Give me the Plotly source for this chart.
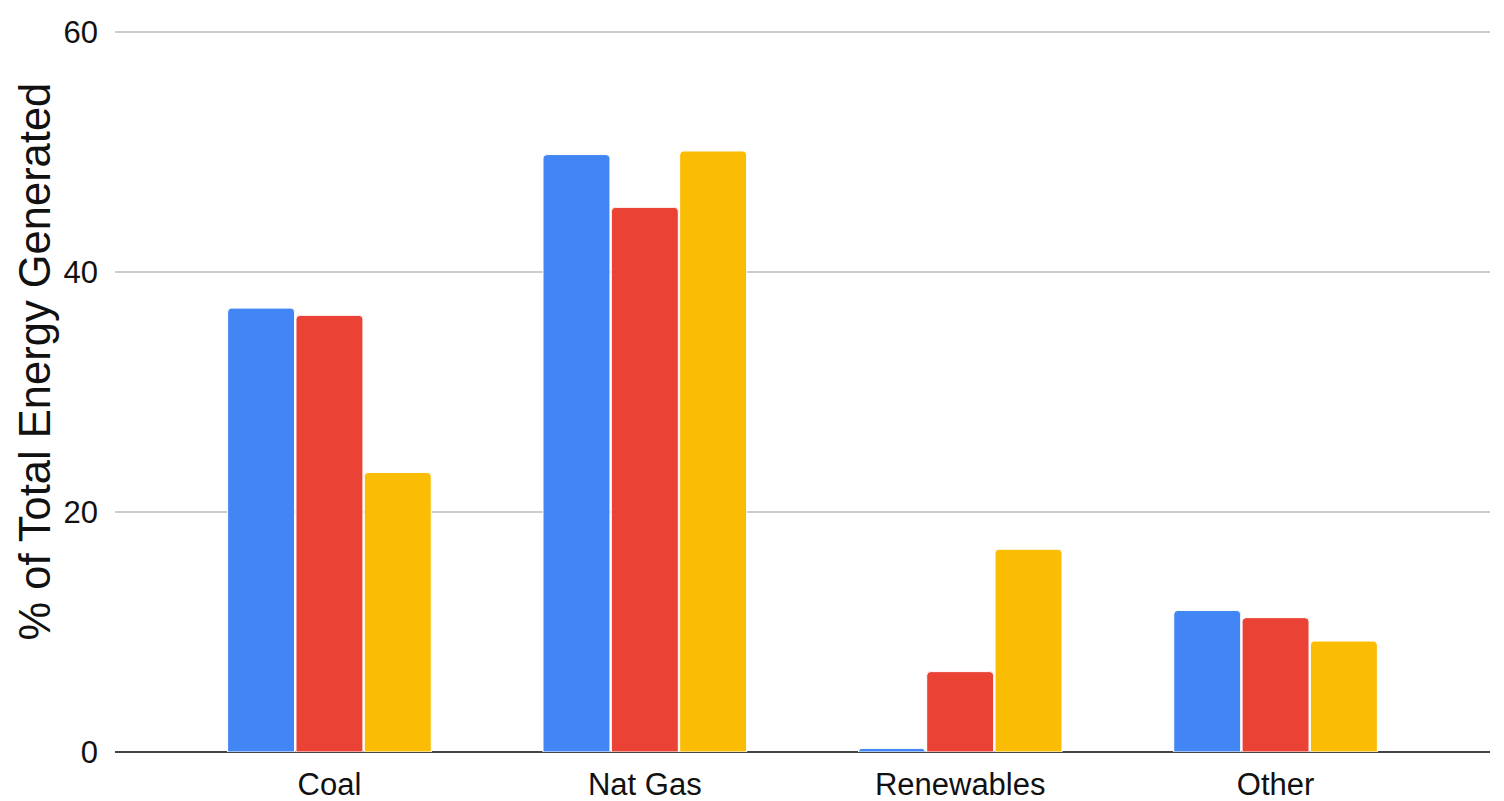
import plotly.graph_objects as go

categories = ["Coal", "Nat Gas", "Renewables", "Other"]
series_a = [37.0, 49.8, 0.3, 11.8]
series_b = [36.4, 45.4, 6.7, 11.2]
series_c = [23.3, 50.1, 16.9, 9.25]
series_names = ["Series A", "Series B", "Series C"]
colors = ["#4285F4", "#EA4335", "#FBBC04"]
y_ticks = [0, 20, 40, 60]
y_title = "% of Total Energy Generated"

fig = go.Figure()
for name, vals, col in zip(series_names, [series_a, series_b, series_c], colors):
    fig.add_trace(go.Bar(x=categories, y=vals, name=name,
                         marker=dict(color=col, line=dict(color="white", width=1), cornerradius=4)))

fig.update_layout(
    width=1504, height=801,
    margin=dict(l=107, r=22, t=23, b=57),
    paper_bgcolor="white", plot_bgcolor="white",
    barmode="group", bargap=0.35, bargroupgap=0.02,
    showlegend=False,
    font=dict(family="Liberation Sans, Arial, sans-serif", color="#111"),
    xaxis=dict(range=[-0.68, 3.68], showgrid=False, tickfont=dict(size=31, color="#111"),
               ticks="", showline=False, automargin=False, ticklabelstandoff=11),
    yaxis=dict(range=[0, 60.1], tickvals=y_ticks, showgrid=True, gridcolor="#cccccc", gridwidth=1.5,
               zeroline=True, zerolinecolor="#444444", zerolinewidth=2, automargin=False,
               tickfont=dict(size=31, color="#111"), ticks="", ticklabelstandoff=16),
    annotations=[dict(text=y_title, textangle=-90, xref="paper", yref="paper",
                      x=-0.0585, y=0.541, xanchor="center", yanchor="middle", showarrow=False,
                      font=dict(size=43.5, color="#111"))],
)
fig.write_html("out.html")
